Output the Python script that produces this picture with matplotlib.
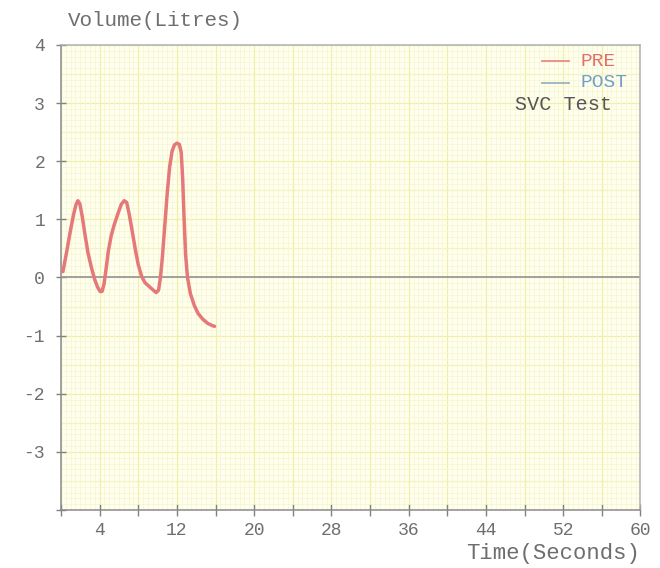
import numpy as np
import matplotlib
matplotlib.use("Agg")
import matplotlib.pyplot as plt
from matplotlib.ticker import MultipleLocator

# SVC test trace (PRE)
time_s = [0.2, 0.6, 0.95, 1.3, 1.55, 1.75, 1.95, 2.2, 2.5, 2.8, 3.15, 3.5, 3.8,
          4.05, 4.25, 4.45, 4.65, 4.9, 5.2, 5.5, 5.9, 6.25, 6.55, 6.8, 7.05,
          7.35, 7.7, 8.0, 8.35, 8.7, 9.1, 9.5, 9.85, 10.1, 10.3, 10.5, 10.75,
          11.0, 11.25, 11.5, 11.75, 12.0, 12.25, 12.45, 12.6, 12.75, 12.9,
          13.1, 13.4, 13.8, 14.2, 14.7, 15.2, 15.7, 15.9]
volume_l = [0.10, 0.45, 0.78, 1.08, 1.25, 1.32, 1.27, 1.05, 0.72, 0.42, 0.17,
            -0.04, -0.17, -0.24, -0.24, -0.12, 0.12, 0.45, 0.72, 0.90, 1.10,
            1.26, 1.32, 1.29, 1.10, 0.82, 0.48, 0.22, 0.02, -0.09, -0.15,
            -0.21, -0.26, -0.22, 0.00, 0.35, 0.90, 1.45, 1.90, 2.17, 2.28,
            2.31, 2.29, 2.15, 1.70, 1.00, 0.40, 0.00, -0.28, -0.48, -0.62,
            -0.72, -0.79, -0.83, -0.84]

x_ticks = [0, 4, 8, 12, 16, 20, 24, 28, 32, 36, 40, 44, 48, 52, 56, 60]
x_labels = ["" if t % 8 == 0 else str(t) for t in x_ticks]
y_ticks = [-4, -3, -2, -1, 0, 1, 2, 3, 4]
y_labels = ["" if v == -4 else str(v) for v in y_ticks]

mono = "Liberation Mono"
grey = "#6e6e6e"

fig = plt.figure(figsize=(6.6, 5.68), dpi=100)
ax = fig.add_axes([0.0924, 0.102, 0.878, 0.819])
ax.set_facecolor("#fffff0")

ax.set_xlim(0, 60)
ax.set_ylim(-4, 4)

# graph paper grid
ax.xaxis.set_minor_locator(MultipleLocator(0.5))
ax.yaxis.set_minor_locator(MultipleLocator(0.1))
ax.grid(which="minor", color="#f6f5cc", lw=0.5)
ax.set_axisbelow(True)
for t in np.arange(0, 61, 4):
    ax.axvline(t, color="#f1eea8", lw=0.9, zorder=0.5)
for v in np.arange(-4, 4.01, 0.5):
    ax.axhline(v, color="#f1eea8", lw=0.9, zorder=0.5)

ax.axhline(0, color="#9a9a9a", lw=1.3, zorder=1)

ax.plot(time_s, volume_l, color="#e57878", lw=2.5, zorder=3,
        solid_joinstyle="round", solid_capstyle="round")

ax.set_xticks(x_ticks)
ax.set_xticklabels(x_labels)
ax.set_yticks(y_ticks)
ax.set_yticklabels(y_labels)
ax.tick_params(which="minor", length=0)
ax.tick_params(axis="x", direction="inout", length=9, width=1, color="#808080",
               labelsize=13, labelcolor=grey, pad=4)
ax.tick_params(axis="y", direction="inout", length=7, width=1, color="#808080",
               labelsize=13, labelcolor=grey, pad=8)
for lab in ax.get_xticklabels() + ax.get_yticklabels():
    lab.set_family(mono)

for s in ax.spines.values():
    s.set_color("#8a8a8a")
    s.set_linewidth(1.1)
ax.spines["top"].set_color("#b0b0b0")
ax.spines["right"].set_color("#b0b0b0")

fig.text(68 / 660, 1 - 20 / 568, "Volume(Litres)", family=mono, fontsize=15,
         color=grey, va="center", ha="left")
fig.text(640 / 660, 1 - 553 / 568, "Time(Seconds)", family=mono, fontsize=16,
         color=grey, va="center", ha="right")

# legend block in the upper right
ax.plot([49.8, 52.6], [3.72, 3.72], color="#e88a8a", lw=1.3, zorder=4)
ax.text(53.8, 3.72, "PRE", family=mono, fontsize=14, color="#e46d6d", va="center")
ax.plot([49.8, 52.6], [3.35, 3.35], color="#9ab4be", lw=1.3, zorder=4)
ax.text(53.8, 3.35, "POST", family=mono, fontsize=14, color="#6f9fce", va="center")
ax.text(47.0, 2.98, "SVC Test", family=mono, fontsize=14.5, color="#555555",
        va="center")

fig.savefig("out.png", dpi=100)
